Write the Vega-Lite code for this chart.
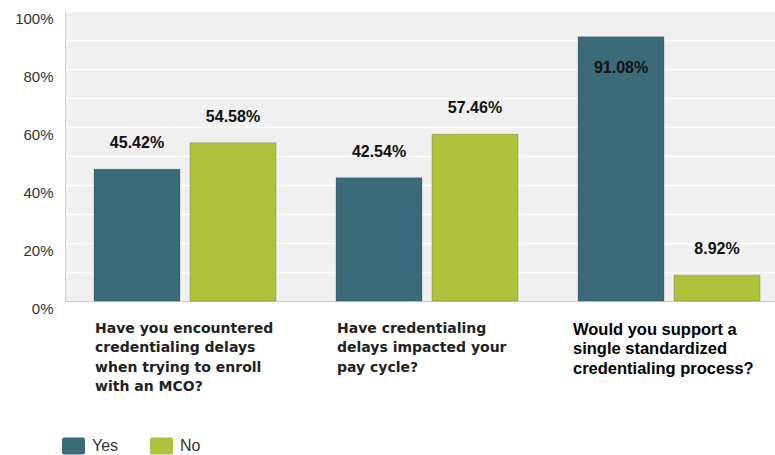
{
  "$schema": "https://vega.github.io/schema/vega-lite/v6.json",
  "width": 710,
  "height": 290,
  "autosize": {"type": "none"},
  "padding": {"left": 65, "top": 11, "right": 0, "bottom": 154},
  "background": "white",
  "config": {"view": {"fill": "#f0f0f0", "stroke": null}},
  "data": {
    "values": [
      {"q": "Have you encountered|credentialing delays|when trying to enroll|with an MCO?", "answer": "Yes", "v": 0.4542},
      {"q": "Have you encountered|credentialing delays|when trying to enroll|with an MCO?", "answer": "No", "v": 0.5458},
      {"q": "Have credentialing|delays impacted your|pay cycle?", "answer": "Yes", "v": 0.4254},
      {"q": "Have credentialing|delays impacted your|pay cycle?", "answer": "No", "v": 0.5746},
      {"q": "Would you support a|single standardized|credentialing process?", "answer": "Yes", "v": 0.9108},
      {"q": "Would you support a|single standardized|credentialing process?", "answer": "No", "v": 0.0892}
    ]
  },
  "encoding": {
    "x": {
      "field": "q",
      "type": "nominal",
      "sort": null,
      "scale": {"paddingInner": 0.248, "paddingOuter": 0.0909, "align": 0.659},
      "axis": {
        "title": null,
        "ticks": false,
        "domain": true,
        "domainColor": "#c8c8c8",
        "domainWidth": 1,
        "labelAngle": 0,
        "labelAlign": "left",
        "labelBaseline": "top",
        "labelPadding": 20,
        "labelLimit": 0,
        "labelLineHeight": 19.5,
        "labelExpr": "split(datum.label, '|')",
        "labelFont": {"condition": {"test": "indexof(datum.value, 'Would') == 0", "value": "Liberation Sans"}, "value": "DejaVu Sans"},
        "labelFontSize": {"condition": {"test": "indexof(datum.value, 'Would') == 0", "value": 16.5}, "value": 14},
        "labelColor": {"condition": {"test": "indexof(datum.value, 'Would') == 0", "value": "#000000"}, "value": "#222222"},
        "labelOffset": {"condition": {"test": "indexof(datum.value, 'Would') == 0", "value": -96}, "value": -90},
        "labelFontWeight": "bold"
      }
    },
    "y": {
      "field": "v",
      "type": "quantitative",
      "scale": {"domain": [0, 1], "nice": false},
      "axis": {
        "title": null,
        "values": [0, 0.1, 0.2, 0.3, 0.4, 0.5, 0.6, 0.7, 0.8, 0.9, 1],
        "labelExpr": "round(datum.value * 10) % 2 == 0 ? format(datum.value, '.0%') : ''",
        "ticks": false,
        "grid": true,
        "gridColor": "#ffffff",
        "gridWidth": 1.5,
        "domain": true,
        "domainColor": "#d0d0d0",
        "labelPadding": 12,
        "labelOffset": 7,
        "labelFont": "Liberation Sans",
        "labelFontSize": 15,
        "labelColor": "#333333"
      }
    },
    "xOffset": {"field": "answer", "type": "nominal", "sort": ["Yes", "No"], "scale": {"paddingInner": 0.104, "paddingOuter": 0}}
  },
  "layer": [
    {
      "mark": {"type": "bar", "stroke": "rgba(0,0,0,0.18)", "strokeWidth": 1},
      "encoding": {
        "color": {
          "field": "answer",
          "type": "nominal",
          "sort": ["Yes", "No"],
          "scale": {"domain": ["Yes", "No"], "range": ["#3b6a78", "#b0c23c"]},
          "legend": {
            "orient": "none",
            "legendX": -3,
            "legendY": 423,
            "direction": "horizontal",
            "title": null,
            "padding": 0,
            "symbolType": "M-0.8,-0.74 L0.8,-0.74 Q1,-0.74 1,-0.54 L1,0.54 Q1,0.74 0.8,0.74 L-0.8,0.74 Q-1,0.74 -1,0.54 L-1,-0.54 Q-1,-0.74 -0.8,-0.74 Z",
            "symbolSize": 529,
            "symbolStrokeWidth": 0,
            "symbolOpacity": 1,
            "labelFont": "Liberation Sans",
            "labelFontSize": 16,
            "labelColor": "#333333",
            "labelOffset": 7,
            "columnPadding": 31
          }
        }
      }
    },
    {
      "transform": [{"filter": "datum.v < 0.85"}],
      "mark": {"type": "text", "baseline": "alphabetic", "dy": -21, "font": "Liberation Sans", "fontWeight": "bold", "fontSize": 16, "color": "#111111"},
      "encoding": {"text": {"field": "v", "type": "quantitative", "format": ".2%"}}
    },
    {
      "transform": [{"filter": "datum.v >= 0.85"}],
      "mark": {"type": "text", "baseline": "alphabetic", "dy": 36, "font": "Liberation Sans", "fontWeight": "bold", "fontSize": 16, "color": "#111111"},
      "encoding": {"text": {"field": "v", "type": "quantitative", "format": ".2%"}}
    }
  ]
}
